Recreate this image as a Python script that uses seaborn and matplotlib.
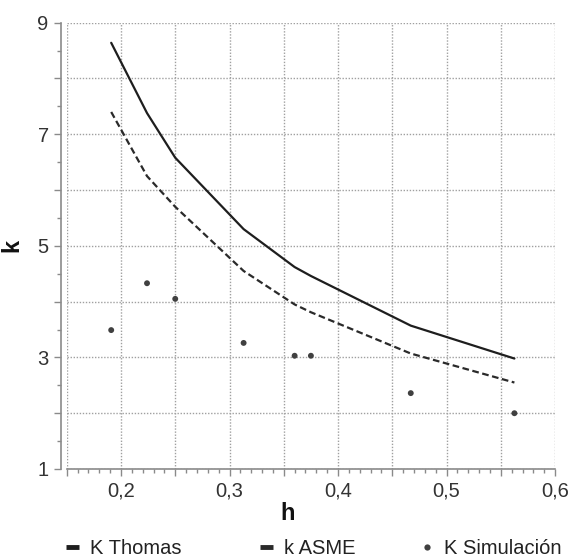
import numpy as np
import pandas as pd
import seaborn as sns
import matplotlib
matplotlib.use("Agg")
import matplotlib.pyplot as plt
from matplotlib.ticker import MultipleLocator, FuncFormatter
from matplotlib.lines import Line2D

h = [0.191, 0.224, 0.25, 0.313, 0.36, 0.375, 0.467, 0.5625]
k_thomas = [8.64, 7.38, 6.58, 5.30, 4.62, 4.46, 3.57, 2.98]
k_asme = [7.40, 6.25, 5.70, 4.55, 3.95, 3.81, 3.07, 2.55]
k_sim = [3.49, 4.33, 4.05, 3.26, 3.03, 3.03, 2.36, 2.00]
labels = ["K Thomas", "k ASME", "K Simulación"]

df = pd.DataFrame({"h": h, "thomas": k_thomas, "asme": k_asme, "sim": k_sim})

sns.set_theme(style="white")
plt.rcParams["font.family"] = ["Liberation Sans", "DejaVu Sans"]

W, H = 578, 558
fig = plt.figure(figsize=(W / 100, H / 100), dpi=100)
ax = fig.add_axes([0.1154, 0.1595, 0.845, 0.7998])

sns.lineplot(data=df, x="h", y="thomas", ax=ax, color="#1e1e1e", linewidth=1.6)
sns.lineplot(data=df, x="h", y="asme", ax=ax, color="#2a2a2a", linewidth=1.6,
             linestyle=(0, (3, 1.6)))
sns.scatterplot(data=df, x="h", y="sim", ax=ax, color="#404040", s=18,
                edgecolor="none", zorder=3)

ax.set_xlim(0.15, 0.6)
ax.set_ylim(1, 9)

ax.xaxis.set_major_locator(MultipleLocator(0.05))
ax.xaxis.set_minor_locator(MultipleLocator(0.01))
ax.yaxis.set_major_locator(MultipleLocator(1))
ax.yaxis.set_minor_locator(MultipleLocator(0.5))

def xfmt(v, pos):
    r = round(v * 10, 6)
    if abs(r - round(r)) < 1e-6 and v > 0.151:
        return f"{v:.1f}".replace(".", ",")
    return ""

def yfmt(v, pos):
    if int(round(v)) % 2 == 1:
        return f"{int(round(v))}"
    return ""

ax.xaxis.set_major_formatter(FuncFormatter(xfmt))
ax.yaxis.set_major_formatter(FuncFormatter(yfmt))

ax.grid(True, which="major", color="#a0a0a0", linestyle=(0, (1, 1.2)), linewidth=1.0)

for s in ["top", "right"]:
    ax.spines[s].set_visible(False)
for s in ["left", "bottom"]:
    ax.spines[s].set_color("#8a8a8a")
    ax.spines[s].set_linewidth(1.2)
ax.spines["left"].set_position(("outward", 4))

ax.tick_params(axis="both", which="major", direction="out", length=5, width=1,
               color="#8a8a8a", labelsize=14.5, labelcolor="#333333", pad=4,
               bottom=True, left=True)
ax.tick_params(axis="both", which="minor", direction="out", length=3, width=1,
               color="#8a8a8a", bottom=True, left=True)

ax.set_xlabel("h", fontsize=17, fontweight="bold", color="#111111", labelpad=2)
ax.xaxis.set_label_coords(0.453, -0.075)
ax.set_ylabel("k", fontsize=17, fontweight="bold", color="#111111", labelpad=10)

handles = [
    Line2D([], [], color="#1e1e1e", linewidth=3.5, solid_capstyle="butt"),
    Line2D([], [], color="#2a2a2a", linewidth=3.5, solid_capstyle="butt"),
    Line2D([], [], color="#404040", marker="o", linestyle="none", markersize=4.5,
           markeredgewidth=0),
]
xpos = [66, 260, 420]
for hd, lb, xp in zip(handles, labels, xpos):
    fig.legend([hd], [lb], loc="center left", bbox_to_anchor=(xp / W, 1 - 549 / H),
               frameon=False, fontsize=14.5, handlelength=0.65,
               handletextpad=0.55, borderpad=0, borderaxespad=0,
               labelcolor="#222222")

fig.savefig("out.png", dpi=100)
